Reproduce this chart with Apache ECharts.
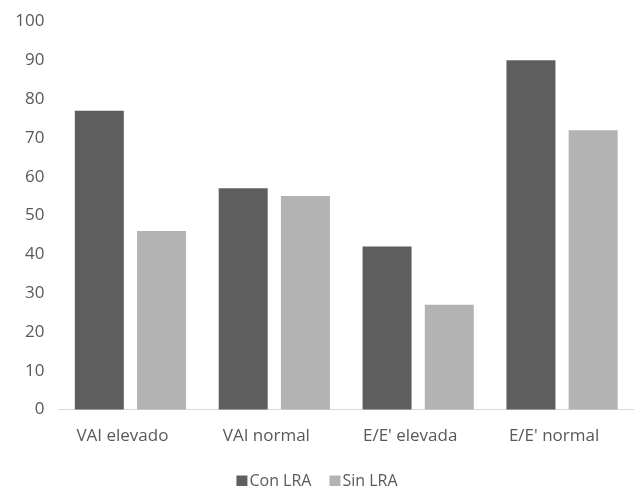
<!DOCTYPE html>
<html>
<head>
<meta charset="utf-8">
<script src="https://cdn.jsdelivr.net/npm/echarts@6/dist/echarts.min.js"></script>
<style>
  html, body { margin: 0; padding: 0; background: #ffffff; }
  #chart { width: 634px; height: 486px; }
</style>
</head>
<body>
<div id="chart"></div>
<script>
// Categories and series values
const categories = ['VAI elevado', 'VAI normal', "E/E' elevada", "E/E' normal"];
const conLRA = [77, 57, 42, 90];
const sinLRA = [46, 55, 27, 72];
const yTicks = { min: 0, max: 100, interval: 10 };

const font = '"Open Sans", Lato, sans-serif';
const textColor = '#595959';

const chart = echarts.init(document.getElementById('chart'), null, { renderer: 'canvas' });
chart.setOption({
  animation: false,
  backgroundColor: '#ffffff',
  grid: { left: 58.5, right: -3, top: 21.5, bottom: 76.5, containLabel: false },
  legend: {
    bottom: -8,
    left: 'center',
    itemWidth: 11,
    itemHeight: 11,
    itemGap: 18,
    icon: 'rect',
    textStyle: { color: textColor, fontSize: 16, fontFamily: font, padding: [0, 0, 0, -3] },
    data: ['Con LRA', 'Sin LRA']
  },
  xAxis: {
    type: 'category',
    data: categories,
    axisLine: { show: true, lineStyle: { color: '#d9d9d9', width: 1 } },
    axisTick: { show: false },
    axisLabel: { color: textColor, fontSize: 17, fontFamily: font, margin: 18, padding: [0, 16, 0, 0] }
  },
  yAxis: {
    type: 'value',
    min: yTicks.min,
    max: yTicks.max,
    interval: yTicks.interval,
    axisLine: { show: false },
    axisTick: { show: false },
    splitLine: { show: false },
    axisLabel: { color: textColor, fontSize: 17, fontFamily: font, margin: 14 }
  },
  series: [
    {
      name: 'Con LRA',
      type: 'bar',
      data: conLRA,
      barWidth: 49,
      barGap: '27%',
      itemStyle: { color: '#5e5e5e' }
    },
    {
      name: 'Sin LRA',
      type: 'bar',
      data: sinLRA,
      barWidth: 49,
      barGap: '27%',
      itemStyle: { color: '#b3b3b3' }
    }
  ]
});
</script>
</body>
</html>
